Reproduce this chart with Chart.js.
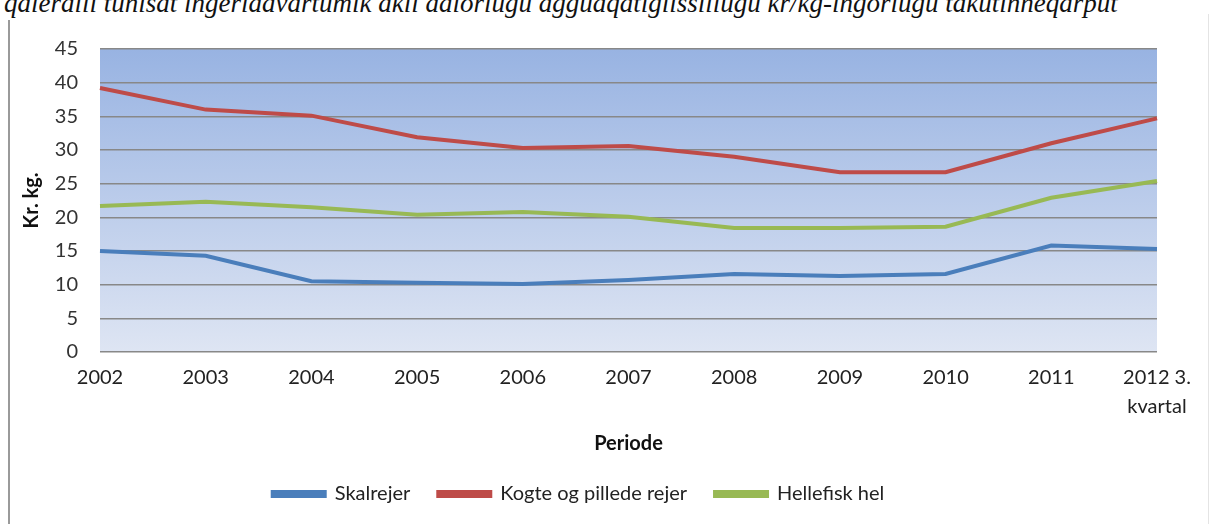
<!DOCTYPE html>
<html>
<head>
<meta charset="utf-8">
<script src="https://cdn.jsdelivr.net/npm/chart.js@4.4.0/dist/chart.umd.min.js"></script>
<style>
  html, body { margin: 0; padding: 0; background: #fff; }
  #wrap { position: relative; width: 1212px; height: 524px; overflow: hidden; }
  #doc { position: absolute; left: 4px; top: -12px; white-space: nowrap;
         font: italic 27px "Liberation Serif", serif; color: #111; }
  #lb { position: absolute; left: 8px; top: 20px; width: 2px; height: 504px; background: #9a9a9a; }
  #rb { position: absolute; left: 1208px; top: 14px; width: 1px; height: 510px; background: #e4e4e4; }
  #holder { position: absolute; left: 0; top: 0; width: 1212px; height: 524px; }
</style>
</head>
<body>
<div id="wrap">
  <div id="doc">qaleralli tunisat ingerlaavartumik akii aalorlugu agguaqatigiissillugu kr/kg-ingorlugu takutinneqarput</div>
  <div id="lb"></div>
  <div id="rb"></div>
  <div id="holder"><canvas id="myChart"></canvas></div>
</div>
<script>
const years = ['2002', '2003', '2004', '2005', '2006', '2007', '2008', '2009', '2010', '2011', ['2012 3.', 'kvartal']];
const skalrejer = [15.0, 14.3, 10.5, 10.3, 10.1, 10.7, 11.6, 11.3, 11.6, 15.8, 15.3];
const kogte = [39.2, 36.0, 35.1, 31.9, 30.3, 30.6, 29.0, 26.7, 26.7, 31.0, 34.7];
const hellefisk = [21.7, 22.3, 21.5, 20.4, 20.8, 20.1, 18.4, 18.4, 18.6, 22.9, 25.4];

const plotBg = {
  id: 'plotBg',
  beforeDraw(chart) {
    const { ctx, chartArea: a } = chart;
    ctx.save();
    const g = ctx.createLinearGradient(0, a.top, 0, a.bottom);
    g.addColorStop(0, '#98b3e2');
    g.addColorStop(1, '#dee5f3');
    ctx.fillStyle = g;
    ctx.fillRect(a.left, a.top, a.right - a.left, a.bottom - a.top);
    ctx.restore();
  }
};

const fam = 'Lato, "Open Sans", sans-serif';
const tickFont = { family: fam, size: 20, lineHeight: 1.45 };
const yFont = { family: fam, size: 20 };
const legendFont = { family: fam, size: 20, lineHeight: 1 };
const titleFont = { family: fam, size: 20, weight: 'bold' };

let ctx = document.getElementById('myChart').getContext('2d');
let chart = new Chart(ctx, {
  type: 'line',
  data: {
    labels: years,
    datasets: [
      { label: 'Skalrejer', data: skalrejer, borderColor: '#4a7ebb', backgroundColor: '#4a7ebb', borderWidth: 4, pointRadius: 0, tension: 0 },
      { label: 'Kogte og pillede rejer', data: kogte, borderColor: '#be4b48', backgroundColor: '#be4b48', borderWidth: 4, pointRadius: 0, tension: 0 },
      { label: 'Hellefisk hel', data: hellefisk, borderColor: '#98b954', backgroundColor: '#98b954', borderWidth: 4, pointRadius: 0, tension: 0 }
    ]
  },
  options: {
    responsive: true,
    maintainAspectRatio: false,
    animation: false,
    layout: { padding: { left: 0, right: 55, top: 49, bottom: 10 } },
    plugins: {
      legend: {
        position: 'bottom',
        labels: { font: legendFont, color: '#222', boxWidth: 52, boxHeight: 4, padding: 28 }
      },
      tooltip: { enabled: false }
    },
    scales: {
      x: {
        offset: false,
        grid: { display: false },
        border: { display: false },
        ticks: { font: tickFont, color: '#222', maxRotation: 0, autoSkip: false, padding: 3 },
        title: { display: true, text: 'Periode', font: titleFont, color: '#111', padding: { top: 8, bottom: 0 } }
      },
      y: {
        min: 0,
        max: 45,
        afterFit(scale) { scale.width = 100; },
        grid: { color: '#888888', lineWidth: 1.5, drawTicks: false },
        border: { display: false },
        ticks: { stepSize: 5, font: yFont, color: '#333', padding: 22 },
        title: { display: true, text: 'Kr. kg.', font: titleFont, color: '#111', padding: { top: 20, bottom: 0 } }
      }
    }
  },
  plugins: [plotBg]
});
</script>
</body>
</html>
